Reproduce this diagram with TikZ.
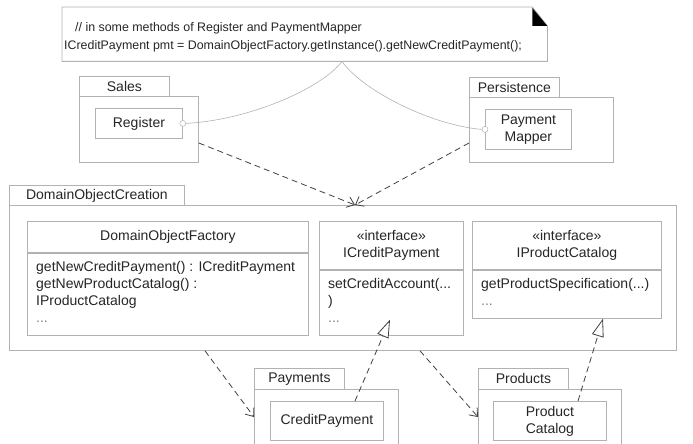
\documentclass[tikz,border=0pt]{standalone}
\usepackage{fontspec}
\setmainfont{Liberation Sans}
\usetikzlibrary{positioning, arrows.meta, calc}

\begin{document}
\begin{tikzpicture}[
  x=1pt, y=-1pt,
  font=\fontsize{14}{17}\selectfont,
  every node/.style={text=black!85, inner sep=0pt},
  pkgtab/.style={rectangle, draw=gray!60, line width=0.8pt, anchor=north west, minimum height=20pt},
  pkgbody/.style={rectangle, draw=gray!60, line width=0.8pt, anchor=north west},
  clsbox/.style={rectangle, draw=gray!60, line width=0.8pt, fill=white, anchor=north west, align=center},
  clstext/.style={anchor=north west, align=left, inner xsep=9pt, inner ysep=8pt},
  lolli/.style={circle, draw=gray!70, fill=white, minimum size=6pt},
  notelink/.style={gray!60, line width=0.6pt},
  depend/.style={draw=gray!50!black, line width=0.8pt, dash pattern=on 6pt off 4pt, -{Straight Barb[length=7pt, width=11pt]}},
  realize/.style={draw=gray!50!black, line width=0.8pt, dash pattern=on 6pt off 4pt, -{Triangle[open, fill=white, length=18pt, width=12pt]}}
  ]

  \useasboundingbox (0,0) rectangle (693,444);
  \clip (0,0) rectangle (693,444);

  % note
  \node[rectangle, anchor=north west, minimum width=485pt, minimum height=54pt] (note) at (62,7) {};
  \draw[gray!60, line width=0.8pt, fill=white] (note.north west) -- ($(note.north east)+(-15,0)$) -- ($(note.north east)+(0,19)$) -- (note.south east) -- (note.south west) -- cycle;
  \fill[black] ($(note.north east)+(-15,1)$) -- ($(note.north east)+(-15,19)$) -- ($(note.north east)+(0,19)$) -- cycle;
  \node[anchor=north west, align=left, font=\fontsize{12.4}{18}\selectfont] (notetext) at (64,22) {\hspace*{11pt}// in some methods of Register and PaymentMapper\\ICreditPayment pmt = DomainObjectFactory.getInstance().getNewCreditPayment();};
  \coordinate (notetip) at ($(note.south west)+(280,0)$);

  % Sales
  \node[pkgtab, minimum width=90pt] (salestab) at (79,76) {Sales};
  \node[pkgbody, minimum width=119pt, minimum height=66pt] (salesbody) at (79,96) {};
  \node[clsbox, minimum width=87pt, minimum height=30pt] (reg) at (95,108) {Register};
  \node[lolli] (regport) at (reg.east) {};

  % Persistence
  \node[pkgtab, minimum width=90pt] (perstab) at (469,77) {Persistence};
  \node[pkgbody, minimum width=144pt, minimum height=65pt] (persbody) at (469,97) {};
  \node[clsbox, minimum width=86pt, minimum height=40pt] (mapper) at (485,109) {Payment\\Mapper};
  \node[lolli] (mapport) at (mapper.west) {};

  \draw[notelink] (notetip) .. controls (322,88) and (250,120) .. (regport.east);
  \draw[notelink] (notetip) .. controls (362,90) and (430,125) .. (mapport.west);

  % DomainObjectCreation
  \node[pkgtab, minimum width=175pt] (doctab) at (9,185) {DomainObjectCreation};
  \node[pkgbody, minimum width=667pt, minimum height=145pt] (docbody) at (9,205) {};

  \node[clsbox, minimum width=281pt, minimum height=31pt] (dofhead) at (27,221) {DomainObjectFactory};
  \node[clsbox, minimum width=281pt, minimum height=82pt] (dofbody) at (dofhead.south west) {};
  \node[clstext] (doftext) at (dofbody.north west) {getNewCreditPayment() : ICreditPayment\\getNewProductCatalog() :\\IProductCatalog\\\textcolor{gray}{...}};

  \node[clsbox, minimum width=144pt, minimum height=48pt] (icphead) at (319,221) {«interface»\\ICreditPayment};
  \node[clsbox, minimum width=144pt, minimum height=65pt] (icpbody) at (icphead.south west) {};
  \node[clstext] (icptext) at (icpbody.north west) {setCreditAccount(...\\)\\\textcolor{gray}{...}};

  \node[clsbox, minimum width=189pt, minimum height=48pt] (ipchead) at (472,221) {«interface»\\IProductCatalog};
  \node[clsbox, minimum width=189pt, minimum height=48pt] (ipcbody) at (ipchead.south west) {};
  \node[clstext] (ipctext) at (ipcbody.north west) {getProductSpecification(...)\\\textcolor{gray}{...}};

  % Payments
  \node[pkgtab, minimum width=90pt, minimum height=21pt] (paytab) at (254,368) {Payments};
  \node[pkgbody, minimum width=144pt, minimum height=70pt] (paybody) at (254,389) {};
  \node[clsbox, minimum width=113pt, minimum height=39pt] (credit) at (270,401) {CreditPayment};

  % Products
  \node[pkgtab, minimum width=90pt, minimum height=21pt] (prodtab) at (478,368) {Products};
  \node[pkgbody, minimum width=143pt, minimum height=70pt] (prodbody) at (478,389) {};
  \node[clsbox, minimum width=113pt, minimum height=39pt] (prodcat) at (493,401) {Product\\Catalog};

  % dependencies
  \coordinate (docin) at ($(docbody.north west)+(346,0)$);
  \draw[depend] ($(salesbody.north east)+(0,47)$) -- (docin);
  \draw[depend] ($(persbody.north west)+(0,46)$) -- (docin);
  \draw[depend] ($(docbody.south west)+(196,0)$) -- ($(paybody.north west)+(0,28)$);
  \draw[depend] ($(docbody.south west)+(411,0)$) -- ($(prodbody.north west)+(0,28)$);

  % realizations
  \coordinate (icpin) at ($(icpbody.south west)+(71,-16)$);
  \draw[realize] ($(credit.north west)+(85,0)$) -- (icpin);
  \draw[realize] ($(prodcat.north west)+(85,0)$) -- ($(ipcbody.south west)+(131,0)$);
\end{tikzpicture}
\end{document}
